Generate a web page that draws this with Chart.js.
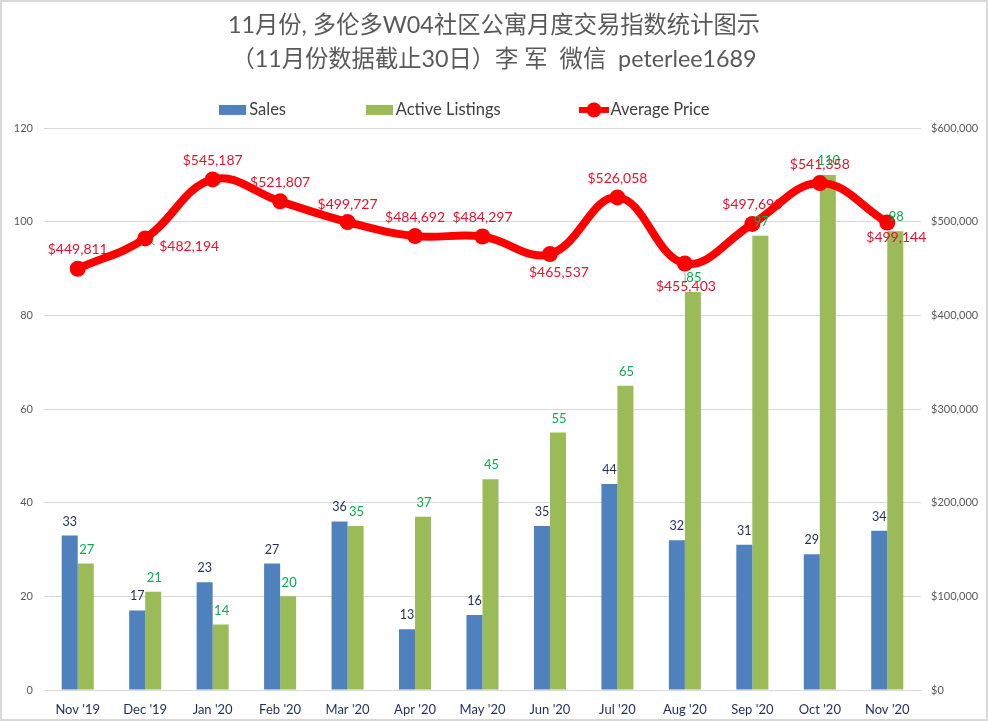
<!DOCTYPE html>
<html>
<head>
<meta charset="utf-8">
<script src="https://cdn.jsdelivr.net/npm/chart.js@4"></script>
<style>
  html, body { margin: 0; padding: 0; background: #fff; }
  canvas { display: block; outline: 2px solid #d9d9d9; outline-offset: -2px; }
</style>
</head>
<body>
<canvas id="chart" width="988" height="721"></canvas>
<script>
const months = ["Nov '19", "Dec '19", "Jan '20", "Feb '20", "Mar '20", "Apr '20", "May '20", "Jun '20", "Jul '20", "Aug '20", "Sep '20", "Oct '20", "Nov '20"];
const sales = [33, 17, 23, 27, 36, 13, 16, 35, 44, 32, 31, 29, 34];
const listings = [27, 21, 14, 20, 35, 37, 45, 55, 65, 85, 97, 110, 98];
const prices = [449811, 482194, 545187, 521807, 499727, 484692, 484297, 465537, 526058, 455403, 497690, 541358, 499144];
const titleLines = ['11月份, 多伦多W04社区公寓月度交易指数统计图示', '（11月份数据截止30日）李 军  微信  peterlee1689'];

const FONT = 'Lato, "Noto Sans CJK SC", sans-serif';
const RED = '#ff0000';

// nudges for the price labels, most sit straight above the point
const priceNudge = [[0, -19], [44, 8], [0, -19], [0, -19], [0, -18], [0, -19], [0, -19], [9, 18], [0, -19], [1, 23], [0, -19], [0, -19], [9, 15]];
const leaderLines = [1, 9];
// these listing labels end up behind the red price text in the reference
const behindPriceText = [9, 11];

function swatch(color, isLine) {
  const c = document.createElement('canvas');
  c.width = isLine ? 30 : 27;
  c.height = 18;
  const g = c.getContext('2d');
  g.fillStyle = color;
  if (isLine) {
    g.fillRect(0, 6, 30, 6);
    g.beginPath();
    g.arc(15, 9, 7.5, 0, Math.PI * 2);
    g.fill();
  } else {
    g.fillRect(0, 4, 27, 10);
  }
  return c;
}

function drawLabel(ctx, text, x, y, color, size) {
  ctx.font = size + 'px ' + FONT;
  ctx.fillStyle = color;
  ctx.textAlign = 'center';
  ctx.textBaseline = 'middle';
  ctx.fillText(text, x, y);
}

function drawListingLabel(chart, i) {
  const b = chart.getDatasetMeta(1).data[i];
  drawLabel(chart.ctx, String(listings[i]), b.x + 1, b.y - 14, '#00b050', 13);
}

const valueLabels = {
  id: 'valueLabels',
  // the legend sits left of centre in the reference
  afterLayout(chart) {
    chart.legend.right -= 54;
  },
  // price labels go under the line, the reference has the line cutting through some of them
  beforeDatasetDraw(chart, args) {
    if (args.index !== 2) return;
    const ctx = chart.ctx;
    const pts = chart.getDatasetMeta(2).data;
    ctx.save();
    behindPriceText.forEach(i => drawListingLabel(chart, i));
    leaderLines.forEach(i => {
      ctx.strokeStyle = '#a6a6a6';
      ctx.lineWidth = 1;
      ctx.beginPath();
      ctx.moveTo(pts[i].x, pts[i].y);
      ctx.lineTo(pts[i].x + priceNudge[i][0] * 0.22, pts[i].y + priceNudge[i][1] * 0.85);
      ctx.stroke();
    });
    pts.forEach((p, i) => {
      const text = '$' + prices[i].toLocaleString('en-US');
      drawLabel(ctx, text, p.x + priceNudge[i][0], p.y + priceNudge[i][1], '#e8112d', 14);
    });
    ctx.restore();
  },
  afterDatasetsDraw(chart) {
    const ctx = chart.ctx;
    ctx.save();
    chart.getDatasetMeta(0).data.forEach((b, i) => {
      drawLabel(ctx, String(sales[i]), b.x, b.y - 14, '#1f2d5a', 12.5);
    });
    listings.forEach((v, i) => {
      if (!behindPriceText.includes(i)) drawListingLabel(chart, i);
    });
    ctx.restore();
  }
};

new Chart(document.getElementById('chart'), {
  type: 'bar',
  plugins: [valueLabels],
  data: {
    labels: months,
    datasets: [
      { label: 'Sales', data: sales, backgroundColor: '#4f81bd', yAxisID: 'y', order: 2, pointStyle: swatch('#4f81bd') },
      { label: 'Active Listings', data: listings, backgroundColor: '#9bbb59', yAxisID: 'y', order: 2, pointStyle: swatch('#9bbb59') },
      {
        type: 'line',
        label: 'Average Price',
        data: prices,
        borderColor: RED,
        backgroundColor: RED,
        borderWidth: 8,
        tension: 0.4,
        pointRadius: 8,
        pointBackgroundColor: RED,
        pointBorderColor: RED,
        pointBorderWidth: 0,
        pointStyle: 'circle',
        yAxisID: 'y1',
        order: 1
      }
    ]
  },
  options: {
    responsive: false,
    animation: false,
    devicePixelRatio: 1,
    datasets: { bar: { categoryPercentage: 0.475, barPercentage: 1 } },
    layout: { padding: { top: 9, left: 0, right: 0, bottom: 0 } },
    plugins: {
      tooltip: { enabled: false },
      title: {
        display: true,
        text: titleLines,
        color: '#595959',
        font: { family: FONT, size: 23.3, weight: 'normal', lineHeight: 1.43 },
        padding: { top: 0, bottom: -59 }
      },
      legend: {
        position: 'top',
        onClick: null,
        labels: {
          font: { family: FONT, size: 16.5 },
          color: '#404040',
          usePointStyle: true,
          pointStyleWidth: 16.5,
          padding: 85,
          generateLabels(chart) {
            return chart.data.datasets.map((d, i) => ({
              text: d.label,
              fontColor: '#404040',
              datasetIndex: i,
              pointStyle: i === 2 ? swatch(RED, true) : d.pointStyle
            }));
          }
        }
      }
    },
    scales: {
      x: {
        grid: { display: false, drawTicks: false },
        border: { color: '#d9d9d9' },
        ticks: { color: '#1f2d5a', font: { family: FONT, size: 13 }, maxRotation: 0, padding: 12, autoSkip: false },
        afterFit(axis) { axis.height = 31; }
      },
      y: {
        position: 'left',
        min: 0,
        max: 120,
        grid: { color: '#d9d9d9', drawTicks: false },
        border: { display: false },
        ticks: { stepSize: 20, color: '#595959', font: { family: FONT, size: 11 }, padding: 11 },
        afterFit(axis) { axis.width = 44; }
      },
      y1: {
        position: 'right',
        min: 0,
        max: 600000,
        grid: { display: false, drawTicks: false },
        border: { display: false },
        ticks: {
          stepSize: 100000,
          color: '#595959',
          font: { family: FONT, size: 11 },
          padding: 10,
          callback: v => '$' + v.toLocaleString('en-US')
        },
        afterFit(axis) { axis.width = 67; }
      }
    }
  }
});
</script>
</body>
</html>
